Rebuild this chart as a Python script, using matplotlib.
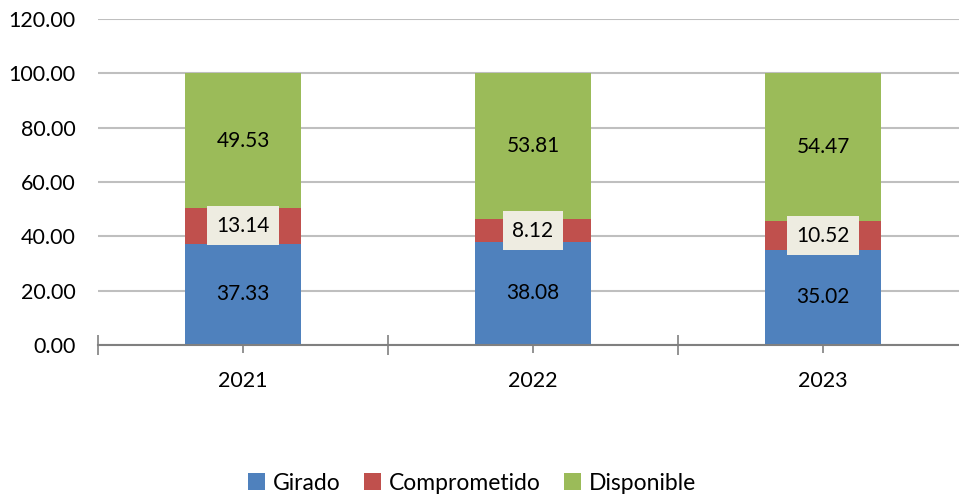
import matplotlib
matplotlib.use("Agg")
import numpy as np
from matplotlib import pyplot as plt

plt.rcParams['font.family'] = ['Lato', 'DejaVu Sans']

years = ['2021', '2022', '2023']
girado = [37.33, 38.08, 35.02]
comprometido = [13.14, 8.12, 10.52]
disponible = [49.53, 53.81, 54.47]

c_gir = '#4F81BD'
c_com = '#C0504D'
c_dis = '#9BBB59'

fig = plt.figure(figsize=(9.59, 4.95), dpi=100)
ax = fig.add_axes([98 / 959, 150 / 495, 870 / 959, 326 / 495])

x = np.arange(len(years))
w = 0.4
b1 = ax.bar(x, girado, w, color=c_gir, label='Girado', zorder=3)
b2 = ax.bar(x, comprometido, w, bottom=girado, color=c_com, label='Comprometido', zorder=3)
bot3 = np.array(girado) + np.array(comprometido)
b3 = ax.bar(x, disponible, w, bottom=bot3, color=c_dis, label='Disponible', zorder=3)

# data labels
for i in range(len(years)):
    ax.text(x[i], girado[i] / 2, '%.2f' % girado[i], ha='center', va='center',
            fontsize=15, zorder=4)
    ax.text(x[i], girado[i] + comprometido[i] / 2, '%.2f' % comprometido[i],
            ha='center', va='center', fontsize=15, zorder=4,
            bbox=dict(boxstyle='square,pad=0.45', fc='#EEECE1', ec='none'))
    ax.text(x[i], bot3[i] + disponible[i] / 2, '%.2f' % disponible[i], ha='center',
            va='center', fontsize=15, zorder=4)

ax.set_ylim(0, 120)
ax.set_xlim(-0.5, 2.5)
ax.set_yticks(np.arange(0, 121, 20))
ax.set_yticklabels(['%.2f' % v for v in np.arange(0, 121, 20)], fontsize=15.5)
ax.yaxis.grid(True, color='#BFBFBF', linewidth=1.5, zorder=0)
ax.tick_params(axis='y', length=0, pad=16)

# category boundaries as major ticks, centers as minor ticks
ax.set_xticks([-0.5, 0.5, 1.5, 2.5])
ax.set_xticklabels([])
ax.set_xticks(x, minor=True)
ax.set_xticklabels(years, minor=True, fontsize=15.5)
ax.tick_params(axis='x', which='major', direction='inout', length=14, width=1.2, color='#808080')
ax.tick_params(axis='x', which='minor', direction='out', length=6, width=1.2, color='#808080', pad=13)

for s in ['top', 'right', 'left']:
    ax.spines[s].set_visible(False)
ax.spines['bottom'].set_color('#808080')
ax.spines['bottom'].set_linewidth(1.5)
ax.spines['bottom'].set_zorder(5)

fig.legend(handles=[b1, b2, b3], loc='center', bbox_to_anchor=(472 / 959, 12 / 495),
           ncol=3, frameon=False, fontsize=16.5, handlelength=0.75, handleheight=0.75,
           handletextpad=0.35, columnspacing=1.0)

fig.savefig('out.png', dpi=100)
